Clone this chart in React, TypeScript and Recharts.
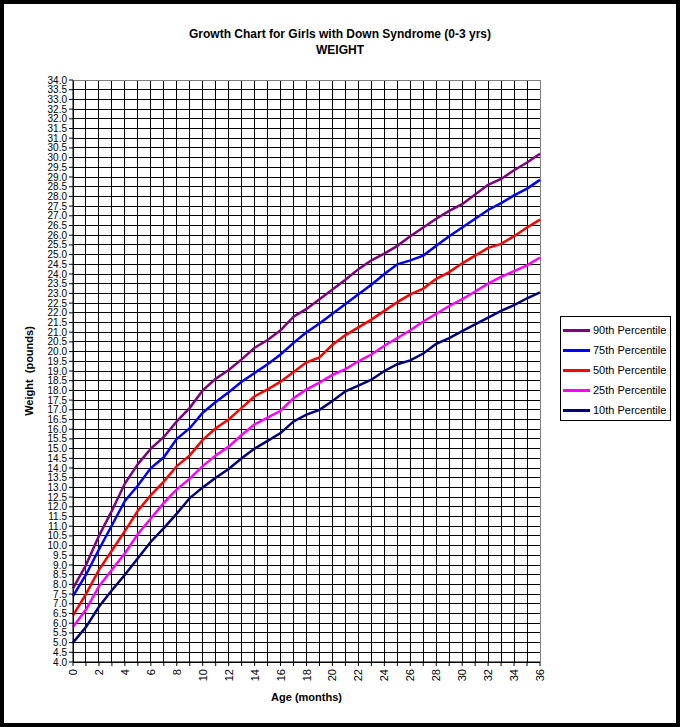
import { LineChart, Line, XAxis, YAxis, CartesianGrid, Legend, ReferenceLine } from 'recharts';

const FONT = '"Liberation Sans", Arial, sans-serif';

const months = [
  0, 1, 2, 3, 4, 5, 6, 7, 8, 9, 10, 11, 12, 13, 14, 15, 16, 17, 18, 19, 20, 21, 22, 23, 24, 25, 26, 27,
  28, 29, 30, 31, 32, 33, 34, 35, 36,
];

const p90 = [
  7.8, 9.0, 10.5, 11.8, 13.2, 14.2, 15.0, 15.6, 16.4, 17.1, 18.0, 18.6, 19.05, 19.6, 20.2, 20.6, 21.1,
  21.8, 22.2, 22.7, 23.2, 23.7, 24.25, 24.7, 25.05, 25.45, 25.95, 26.4, 26.85, 27.25, 27.6, 28.1, 28.6,
  28.9, 29.35, 29.75, 30.2,
];
const p75 = [
  7.4, 8.5, 9.8, 11.05, 12.3, 13.1, 14.0, 14.55, 15.5, 16.05, 16.85, 17.4, 17.9, 18.45, 18.9, 19.35,
  19.85, 20.45, 21.0, 21.45, 21.95, 22.45, 22.95, 23.45, 24.0, 24.5, 24.7, 24.95, 25.45, 25.95, 26.4,
  26.85, 27.3, 27.65, 28.05, 28.4, 28.85,
];
const p50 = [
  6.4, 7.5, 8.75, 9.75, 10.75, 11.8, 12.6, 13.3, 14.1, 14.65, 15.45, 16.05, 16.5, 17.1, 17.7, 18.05,
  18.45, 18.95, 19.45, 19.7, 20.35, 20.85, 21.25, 21.65, 22.1, 22.55, 22.95, 23.25, 23.75, 24.1, 24.55,
  24.95, 25.35, 25.55, 25.95, 26.4, 26.8,
];
const p25 = [
  5.8, 6.7, 7.9, 8.75, 9.6, 10.6, 11.4, 12.2, 12.9, 13.45, 14.1, 14.65, 15.1, 15.7, 16.25, 16.6, 16.95,
  17.6, 18.05, 18.4, 18.8, 19.1, 19.5, 19.85, 20.3, 20.7, 21.1, 21.55, 21.95, 22.35, 22.7, 23.1, 23.5,
  23.85, 24.15, 24.45, 24.85,
];
const p10 = [
  5.0, 5.8, 6.85, 7.7, 8.5, 9.35, 10.2, 10.9, 11.65, 12.45, 13.0, 13.5, 13.95, 14.5, 15.0, 15.4, 15.8,
  16.4, 16.75, 17.0, 17.45, 17.95, 18.25, 18.55, 19.0, 19.35, 19.55, 19.9, 20.4, 20.7, 21.05, 21.4,
  21.75, 22.1, 22.4, 22.75, 23.05,
];

const yTicks = [
  4, 4.5, 5, 5.5, 6, 6.5, 7, 7.5, 8, 8.5, 9, 9.5, 10, 10.5, 11, 11.5, 12, 12.5, 13, 13.5, 14, 14.5, 15,
  15.5, 16, 16.5, 17, 17.5, 18, 18.5, 19, 19.5, 20, 20.5, 21, 21.5, 22, 22.5, 23, 23.5, 24, 24.5, 25,
  25.5, 26, 26.5, 27, 27.5, 28, 28.5, 29, 29.5, 30, 30.5, 31, 31.5, 32, 32.5, 33, 33.5, 34,
];

const series = [
  { key: 'p90', name: '90th Percentile', color: '#800080', values: p90 },
  { key: 'p75', name: '75th Percentile', color: '#0000FF', values: p75 },
  { key: 'p50', name: '50th Percentile', color: '#FF0000', values: p50 },
  { key: 'p25', name: '25th Percentile', color: '#FF00FF', values: p25 },
  { key: 'p10', name: '10th Percentile', color: '#000080', values: p10 },
];

const data = months.map((m, i) => {
  const row: Record<string, number> = { month: m };
  series.forEach((s) => {
    row[s.key] = s.values[i];
  });
  return row;
});

// only even months get a label, every month gets a tick mark
const MonthTick = (props: any) => {
  const { x, y, payload } = props;
  if (payload.value % 2 !== 0) return null;
  return (
    <g transform={`translate(${x},${y + 1})`}>
      <text
        transform="rotate(-90)"
        textAnchor="end"
        dy={4}
        fontSize={11}
        fontFamily={FONT}
        fill="#000"
      >
        {payload.value}
      </text>
    </g>
  );
};

const LegendBox = () => (
  <div
    style={{
      border: '1px solid #000',
      background: '#fff',
      boxSizing: 'border-box',
      width: 111,
      height: 105,
      paddingTop: 3,
      fontFamily: FONT,
      fontSize: 11,
    }}
  >
    {series.map((s) => (
      <div key={s.key} style={{ display: 'flex', alignItems: 'center', height: 20 }}>
        <span
          style={{ display: 'inline-block', width: 27, height: 3, background: s.color, marginLeft: 2 }}
        />
        <span style={{ marginLeft: 3 }}>{s.name}</span>
      </div>
    ))}
  </div>
);

const App = () => {
  return (
    <div
      style={{
        position: 'absolute',
        left: 0,
        top: 0,
        width: 672,
        height: 719,
        border: '4px solid #000',
        background: '#fff',
      }}
    >
      <div
        style={{
          position: 'absolute',
          left: 0,
          top: 22,
          width: 672,
          textAlign: 'center',
          fontFamily: FONT,
          fontWeight: 'bold',
          fontSize: 12,
          lineHeight: '16px',
          zIndex: 2,
        }}
      >
        <div>Growth Chart for Girls with Down Syndrome (0-3 yrs)</div>
        <div>WEIGHT</div>
      </div>
      <LineChart
        width={672}
        height={719}
        data={data}
        margin={{ top: 76, right: 136, bottom: 21, left: 24 }}
      >
        <CartesianGrid stroke="#000" shapeRendering="crispEdges" />
        <XAxis
          dataKey="month"
          type="number"
          domain={[0, 36]}
          ticks={months}
          interval={0}
          height={40}
          tickSize={4}
          stroke="#000"
          tick={<MonthTick />}
          label={(props: any) => {
            const vb = props.viewBox;
            return (
              <text
                x={vb.x + vb.width / 2}
                y={vb.y + 39}
                textAnchor="middle"
                fontFamily={FONT}
                fontWeight="bold"
                fontSize={11}
                fill="#000"
              >
                Age (months)
              </text>
            );
          }}
        />
        <YAxis
          type="number"
          domain={[4, 34]}
          ticks={yTicks}
          interval={0}
          width={45}
          tickSize={4}
          stroke="#000"
          tickFormatter={(v: number) => v.toFixed(1)}
          tick={{ fontSize: 10, fontFamily: FONT, fill: '#000' }}
          label={(props: any) => {
            const vb = props.viewBox;
            const cx = vb.x + 0.5;
            const cy = vb.y + vb.height / 2;
            return (
              <text
                x={cx}
                y={cy}
                transform={`rotate(-90 ${cx} ${cy})`}
                textAnchor="middle"
                dominantBaseline="central"
                fontFamily={FONT}
                fontWeight="bold"
                fontSize={11}
                fill="#000"
                style={{ whiteSpace: 'pre' }}
              >
                Weight  (pounds)
              </text>
            );
          }}
        />
        <ReferenceLine y={34} stroke="#808080" shapeRendering="crispEdges" />
        <ReferenceLine x={36} stroke="#808080" shapeRendering="crispEdges" />
        {series.map((s) => (
          <Line
            key={s.key}
            type="linear"
            dataKey={s.key}
            name={s.name}
            stroke={s.color}
            strokeWidth={2.5}
            dot={false}
            activeDot={false}
            isAnimationActive={false}
          />
        ))}
        <Legend
          layout="vertical"
          align="center"
          verticalAlign="middle"
          wrapperStyle={{ left: 556, top: 312, width: 111, height: 105 }}
          content={() => <LegendBox />}
        />
      </LineChart>
    </div>
  );
};

export default App;
